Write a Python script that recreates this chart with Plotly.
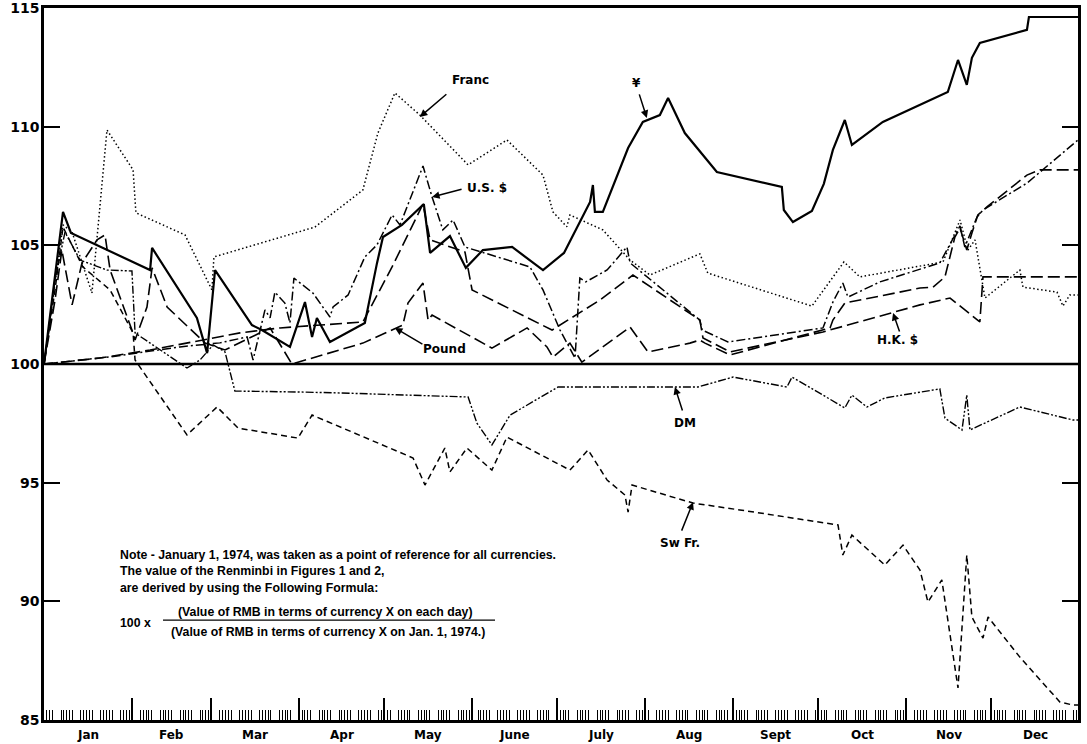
import plotly.graph_objects as go
import pandas as pd

# ---------------- data (x = day of 1974, 0 = Jan 1; y = index, Jan 1 1974 = 100) ----------------
yen_day = [0, 6.7, 9.5, 37.4, 38.1, 53.9, 57.5, 60.3, 73.3, 76.8, 86.7, 92.0, 94.5, 96.2, 100.8,
           113.1, 117.4, 119.5, 126.2, 133.9, 136.1, 143.1, 148.7, 154.7, 165.0, 175.9, 183.3,
           192.5, 193.5, 194.2, 197.0, 205.9, 211.1, 217.1, 220.0, 225.9, 237.2, 260.1, 260.8,
           264.0, 270.7, 274.9, 278.1, 282.3, 284.8, 295.7, 318.6, 322.2, 325.3, 327.1, 329.9,
           346.5, 347.2, 364.5]
yen_val = [100.0, 106.41, 105.52, 103.96, 104.89, 101.94, 100.46, 103.96, 101.64, 101.43, 100.72,
           102.61, 101.14, 101.94, 100.93, 101.73, 104.26, 105.35, 105.86, 106.74, 104.68, 105.39,
           104.05, 104.80, 104.93, 103.96, 104.68, 106.83, 107.54, 106.41, 106.41, 109.10, 110.20,
           110.49, 111.21, 109.73, 108.09, 107.46, 106.49, 105.98, 106.45, 107.59, 109.02, 110.28,
           109.23, 110.20, 111.46, 112.81, 111.76, 112.90, 113.53, 114.08, 114.62, 114.62]

franc_day = [0, 6.7, 9.9, 16.9, 22.2, 31.4, 32.4, 49.7, 59.2, 59.9, 95.5, 112.4, 117.7, 123.7,
             132.5, 149.5, 163.2, 175.9, 179.4, 184.3, 185.4, 197.0, 206.6, 213.6, 231.2, 234.0,
             270.7, 282.0, 287.6, 316.9, 320.1, 322.9, 325.7, 328.2, 331.7, 344.0, 345.1, 357.1,
             359.2, 361.6, 364.5]
franc_val = [100.0, 105.86, 105.56, 102.99, 109.86, 108.18, 106.37, 105.44, 103.12, 104.51, 105.77,
             107.33, 109.73, 111.42, 110.49, 108.39, 109.44, 107.96, 106.41, 105.78, 106.28, 105.65,
             104.38, 103.75, 104.64, 103.83, 102.44, 104.30, 103.67, 104.30, 105.23, 106.07, 104.80,
             105.23, 102.78, 103.96, 103.24, 103.03, 102.44, 102.91, 102.91]

usd_day = [0, 23.3, 47.9, 62.0, 71.6, 73.7, 77.9, 79.7, 81.4, 84.9, 86.7, 88.1, 94.8, 100.8, 101.9,
           107.2, 113.1, 117.4, 122.7, 125.5, 133.6, 136.8, 140.6, 144.2, 148.4, 171.3, 175.9,
           181.9, 187.2, 188.9, 191.0, 198.5, 205.5, 206.6, 231.2, 232.0, 241.1, 274.6, 278.1,
           281.6, 283.4, 294.7, 315.8, 320.1, 322.9, 324.6, 328.9, 331.0, 346.6, 364.5]
usd_val = [100.0, 100.30, 100.72, 100.89, 101.14, 100.17, 102.28, 101.94, 103.03, 102.57, 101.73,
           103.62, 102.99, 101.98, 102.40, 102.91, 104.51, 105.02, 106.28, 105.86, 108.34, 107.04,
           105.65, 106.07, 104.93, 104.09, 103.12, 101.43, 100.25, 103.62, 103.46, 103.96, 104.93,
           104.26, 101.85, 101.43, 100.93, 101.52, 102.61, 103.41, 102.82, 103.46, 104.26, 105.23,
           105.82, 104.93, 106.19, 106.49, 107.63, 109.44]

pound_day = [0, 3.9, 6.3, 9.9, 13.4, 18.7, 21.5, 23.3, 31.0, 32.1, 36.3, 38.1, 43.4, 52.2, 56.8,
             63.8, 70.9, 79.7, 87.4, 112.4, 126.5, 128.3, 133.6, 135.4, 136.8, 157.9, 170.3,
             177.3, 179.4, 185.4, 189.6, 206.6, 212.9, 227.7, 231.2, 233.0, 241.8, 264.0, 277.1,
             278.1, 282.3, 308.8, 313.4, 317.6, 319.4, 321.1, 322.9, 325.3, 327.1, 329.2, 332.4,
             346.5, 351.1, 364.5]
pound_val = [100.0, 102.70, 104.80, 102.49, 104.26, 105.23, 105.44, 103.96, 101.43, 101.01, 102.40,
             104.05, 102.40, 101.43, 100.88, 100.59, 101.01, 101.52, 100.00, 100.88, 101.64, 102.57,
             103.41, 101.85, 102.06, 100.67, 101.52, 100.72, 100.29, 100.88, 100.08, 101.56, 100.51,
             100.88, 101.01, 100.88, 100.38, 101.10, 101.52, 101.85, 102.57, 103.20, 103.24, 103.67,
             104.51, 105.35, 105.73, 104.80, 105.52, 106.28, 106.62, 107.96, 108.18, 108.18]

hkd_day = [0, 19.7, 37.4, 69.1, 83.2, 112.4, 122.7, 133.6, 136.1, 148.4, 150.9, 179.1, 196.0,
           207.6, 231.2, 232.3, 241.8, 274.6, 308.8, 319.4, 329.9, 331.0, 364.5]
hkd_val = [100.0, 100.25, 100.59, 101.31, 101.52, 101.77, 104.09, 106.74, 105.23, 104.72, 103.12,
           101.43, 102.70, 103.75, 101.85, 101.10, 100.51, 101.35, 102.49, 102.78, 101.77, 103.67,
           103.67]

dm_day = [0, 3.9, 7.4, 12.7, 22.2, 31.0, 32.1, 50.4, 55.0, 59.6, 63.8, 67.3, 90.2, 104.3, 149.5,
          152.6, 157.9, 164.3, 181.2, 230.5, 242.9, 261.9, 263.7, 282.3, 284.8, 290.1, 296.4,
          315.8, 317.6, 323.6, 325.3, 326.4, 344.0, 362.7, 364.5]
dm_val = [100.0, 103.54, 105.56, 104.38, 103.96, 103.92, 101.31, 99.83, 100.17, 100.80, 100.51,
          98.86, 98.82, 98.78, 98.61, 97.51, 96.59, 97.85, 99.03, 99.03, 99.45, 99.03, 99.45, 98.15,
          98.69, 98.19, 98.57, 98.95, 97.72, 97.22, 98.69, 97.22, 98.19, 97.64, 97.64]

swfr_day = [0, 3.9, 6.7, 13.7, 23.3, 31.4, 32.1, 50.4, 61.0, 68.4, 89.5, 94.5, 130.1, 134.3, 141.3,
            143.1, 149.1, 157.9, 163.2, 185.4, 191.8, 198.5, 204.8, 205.9, 207.3, 228.8, 245.3,
            279.9, 281.6, 284.8, 296.4, 302.8, 308.8, 311.6, 316.5, 322.2, 325.3, 327.1, 331.0,
            332.8, 344.0, 358.1, 362.7, 364.5]
swfr_val = [100.0, 103.12, 105.77, 104.09, 103.12, 101.31, 100.17, 97.01, 98.19, 97.30, 96.88,
            97.85, 96.04, 94.90, 96.46, 95.45, 96.46, 95.53, 96.92, 95.53, 96.38, 95.11, 94.48, 93.76,
            94.90, 94.14, 93.85, 93.22, 91.95, 92.79, 91.53, 92.37, 91.32, 89.97, 90.90, 86.35, 91.95,
            89.34, 88.45, 89.34, 87.65, 85.76, 85.63, 85.63]

BASELINE = 100
Y_TICKS = [85, 90, 95, 100, 105, 110, 115]
MONTHS = ["Jan", "Feb", "Mar", "Apr", "May", "June", "July", "Aug", "Sept", "Oct", "Nov", "Dec"]
MONTH_START = [0, 31, 59, 90, 120, 151, 181, 212, 243, 273, 304, 334, 365]

# label text, arrow tip (day, value), arrow tail offset (px), label position (day, value)
LABELS = [
    ("Franc", 132.5, 110.41, 28, -24, 150.2, 111.97),
    ("¥", 212.5, 110.37, -8, -25, 208.7, 111.84),
    ("U.S. $", 136.8, 107.04, 31, -8, 156.2, 107.42),
    ("Pound", 123.7, 101.52, 29, 17, 141.3, 100.63),
    ("H.K. $", 299.3, 102.15, 7, 20, 300.7, 101.01),
    ("DM", 222.4, 99.03, 8, 25, 225.9, 97.51),
    ("Sw Fr.", 228.8, 94.18, -12, 30, 224.2, 92.46),
]

NOTE_LINES = [
    "Note - January 1, 1974, was taken as a point of reference for all currencies.",
    "The value of the Renminbi in Figures 1 and 2,",
    "are derived by using the Following Formula:",
]
FORMULA_NUM = "(Value of RMB in terms of currency X on each day)"
FORMULA_DEN = "(Value of RMB in terms of currency X on Jan. 1, 1974.)"

# ---------------- figure ----------------
series = [
    ("¥", yen_day, yen_val, dict(color="black", width=2.2, dash="solid")),
    ("Franc", franc_day, franc_val, dict(color="black", width=1.5, dash="1.5px,2.5px")),
    ("U.S. $", usd_day, usd_val, dict(color="black", width=1.5, dash="9px,3px,2px,3px")),
    ("Pound", pound_day, pound_val, dict(color="black", width=1.6, dash="12px,5px")),
    ("H.K. $", hkd_day, hkd_val, dict(color="black", width=1.6, dash="12px,5px")),
    ("DM", dm_day, dm_val, dict(color="black", width=1.4, dash="8px,2px,2px,2px,2px,2px")),
    ("Sw Fr.", swfr_day, swfr_val, dict(color="black", width=1.5, dash="6px,4px")),
]

fig = go.Figure()
for name, xs, ys, ln in series:
    fig.add_trace(go.Scatter(x=xs, y=ys, mode="lines", name=name, line=ln,
                             showlegend=False, hoverinfo="skip"))

x_range = [0, 364.5]
month_bounds = MONTH_START[1:-1]
bdays = [d for d in (pd.bdate_range("1974-01-01", "1974-12-31").dayofyear - 1)
         if d not in month_bounds]

fig.update_layout(
    width=1087, height=744, autosize=False,
    margin=dict(l=44, r=9, t=8, b=24),
    paper_bgcolor="white", plot_bgcolor="white",
    showlegend=False,
    xaxis=dict(range=x_range, showgrid=False, zeroline=False, automargin=False,
               showline=True, linecolor="black", linewidth=2.5, mirror=True,
               tickmode="array", tickvals=month_bounds, ticktext=[""] * len(month_bounds),
               ticks="inside", ticklen=22, tickwidth=1.5, tickcolor="black",
               showticklabels=False,
               minor=dict(tickmode="array", tickvals=bdays, ticks="inside",
                          ticklen=10, tickwidth=1, tickcolor="black", showgrid=False)),
    yaxis=dict(range=[85, 115], showgrid=False, zeroline=False, automargin=False,
               showline=True, linecolor="black", linewidth=2.5, mirror="ticks",
               tickmode="array", tickvals=Y_TICKS, ticks="inside", ticklen=16,
               tickwidth=2, tickcolor="black", ticklabelstandoff=-1,
               ticklabeloverflow="allow",
               tickfont=dict(family="DejaVu Sans", size=14, color="black", weight="bold")),
)

fig.add_shape(type="line", xref="paper", x0=0, x1=1, yref="y", y0=BASELINE, y1=BASELINE,
              line=dict(color="black", width=2.5))

# month labels centred in each month
for i, m in enumerate(MONTHS):
    mid = (MONTH_START[i] + MONTH_START[i + 1]) / 2
    fig.add_annotation(x=mid, y=0, xref="x", yref="paper", yanchor="top", yshift=-6,
                       text=m, showarrow=False,
                       font=dict(family="DejaVu Sans", size=12, color="black", weight="bold"))

lab_font = dict(family="DejaVu Sans", size=12, color="black", weight="bold")
for text, tx, ty, ax, ay, lx, ly in LABELS:
    fig.add_annotation(x=tx, y=ty, xref="x", yref="y", text="", showarrow=True,
                       ax=ax, ay=ay, arrowhead=2, arrowsize=1, arrowwidth=1.5,
                       arrowcolor="black", standoff=0)
    fig.add_annotation(x=lx, y=ly, xref="x", yref="y", text=text, showarrow=False,
                       font=lab_font)

note_font = dict(family="Liberation Sans, Arial", size=12.3, color="black", weight="bold")
for i, line in enumerate(NOTE_LINES):
    fig.add_annotation(x=0.0716, y=0.2317 - i * 0.0231, xref="paper", yref="paper",
                       xanchor="left", yanchor="middle", text=line, showarrow=False,
                       font=note_font)
fig.add_annotation(x=0.0716, y=0.1362, xref="paper", yref="paper", xanchor="left",
                   yanchor="middle", text="100 x", showarrow=False, font=note_font)
fig.add_annotation(x=0.2727, y=0.1517, xref="paper", yref="paper", xanchor="center",
                   yanchor="middle", text=FORMULA_NUM, showarrow=False, font=note_font)
fig.add_annotation(x=0.2747, y=0.1236, xref="paper", yref="paper", xanchor="center",
                   yanchor="middle", text=FORMULA_DEN, showarrow=False, font=note_font)
fig.add_shape(type="line", xref="paper", yref="paper", x0=0.1151, x1=0.4362,
              y0=0.1404, y1=0.1404, line=dict(color="black", width=1.2))

# remove the default page margin so the figure sits at the window's top-left corner
fig.write_html("out.html", config={"displayModeBar": False},
               post_script="document.body.style.margin='0';")
